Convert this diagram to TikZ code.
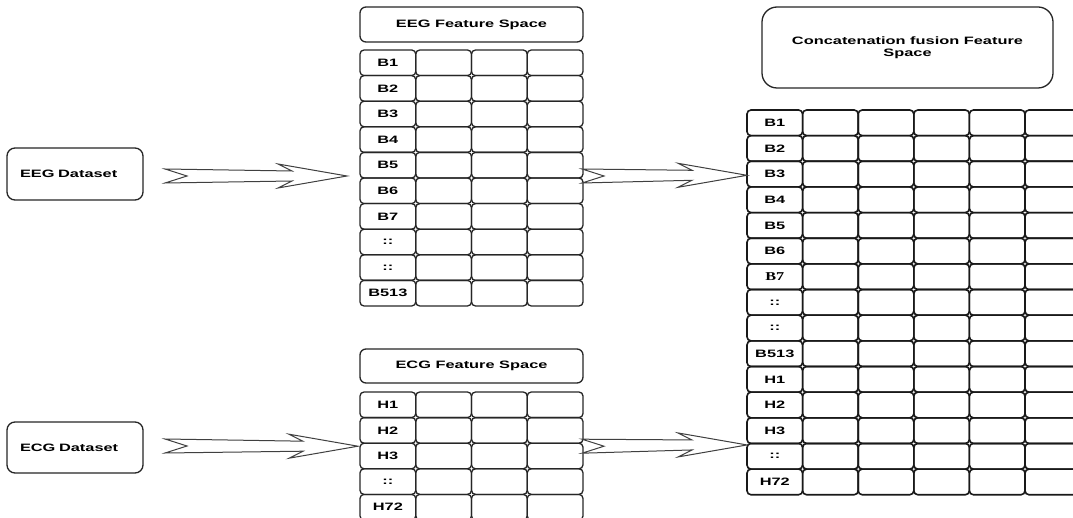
\documentclass[tikz,border=0pt]{standalone}
\usepackage{fontspec}
\setmainfont[FakeStretch=1.53]{Liberation Sans}
\newfontfamily\serifB[FakeStretch=1.35]{Liberation Serif}
\usetikzlibrary{calc}
\newcommand\fatarrow[2]{\path[fatarr] let \p1=(#1), \p2=(#2) in
  (\x1,\y1+7pt) -- (\x2-55pt,\y2+5pt) -- (\x2-69pt,\y2+12pt) -- (\x2,\y2)
  -- (\x2-69pt,\y2-12pt) -- (\x2-55pt,\y2-5pt) -- (\x1,\y1-7pt) -- (\x1+22pt,\y1) -- cycle;}
\begin{document}
\begin{tikzpicture}[x=1pt,y=-1pt,
  font=\fontsize{10.7}{12.5}\selectfont\bfseries,
  box/.style={draw=black!85, line width=1.3pt, rounded corners=8pt, fill=white, anchor=north west, inner sep=0pt, outer sep=0pt},
  cell/.style={draw=black!85, line width=1.3pt, rounded corners=4pt, minimum width=55.75pt, minimum height=25.6pt, inner sep=0pt, outer sep=0pt, anchor=north west},
  ccell/.style={cell, draw=black!90, line width=1.6pt, minimum width=55.6pt, minimum height=25.65pt},
  fatarr/.style={draw=black!75, line width=1pt, fill=white, line join=miter}]
\useasboundingbox (0,0) rectangle (1073,518);
\clip (0,0) rectangle (1073,518);

% dataset boxes
\node[box, minimum width=136pt, minimum height=52pt, text width=110pt, align=left] (eegds) at (7,148) {EEG Dataset};
\node[box, minimum width=136pt, minimum height=51pt, text width=110pt, align=left] (ecgds) at (7,422) {ECG Dataset};

% title boxes
\node[box, rounded corners=6pt, minimum width=223pt, minimum height=35pt] (eegtitle) at (360,7) {EEG Feature Space};
\node[box, rounded corners=6pt, minimum width=223pt, minimum height=34pt] (ecgtitle) at (360,349) {ECG Feature Space};
\node[box, rounded corners=15pt, minimum width=291pt, minimum height=81pt, align=center] (cctitle) at (762,7) {Concatenation fusion Feature\\Space};

% EEG table
\foreach \lab [count=\r from 0] in {B1,B2,B3,B4,B5,B6,B7,::,::,B513} {
  \node[cell] (eeg-\r-0) at (360,50+25.6*\r) {\lab};
  \foreach \c in {1,2,3} \node[cell] (eeg-\r-\c) at (360+55.75*\c,50+25.6*\r) {};
}
% ECG table
\foreach \lab [count=\r from 0] in {H1,H2,H3,::,H72} {
  \node[cell] (ecg-\r-0) at (360,392+25.6*\r) {\lab};
  \foreach \c in {1,2,3} \node[cell] (ecg-\r-\c) at (360+55.75*\c,392+25.6*\r) {};
}
% Concatenation table
\foreach \lab [count=\r from 0] in {B1,B2,B3,B4,B5,B6,{\serifB\fontsize{12}{12}\selectfont B7},::,::,B513,H1,H2,H3,::,H72} {
  \node[ccell] (cc-\r-0) at (747,110+25.65*\r) {\lab};
  \foreach \c in {1,...,5} \node[ccell] (cc-\r-\c) at (747+55.6*\c,110+25.65*\r) {};
}

% arrow end points
\coordinate (a1s) at ($(eegds.east)+(22,2)$);
\coordinate (a1e) at ($(eeg-5-0.north west)+(-13,-2)$);
\coordinate (a2s) at ($(ecgds.east)+(22,-1.5)$);
\coordinate (a2e) at ($(ecg-2-0.north west)+(-2,3)$);
\coordinate (a3s) at ($(eeg-5-3.north east)+(-1,-2)$);
\coordinate (a3e) at ($(cc-2-0.north west)+(0,14)$);
\coordinate (a4s) at ($(ecg-2-3.north east)+(-1,3)$);
\coordinate (a4e) at ($(cc-13-0.north west)+(0,1.5)$);

\fatarrow{a1s}{a1e}
\fatarrow{a2s}{a2e}
\fatarrow{a3s}{a3e}
\fatarrow{a4s}{a4e}
\end{tikzpicture}
\end{document}
